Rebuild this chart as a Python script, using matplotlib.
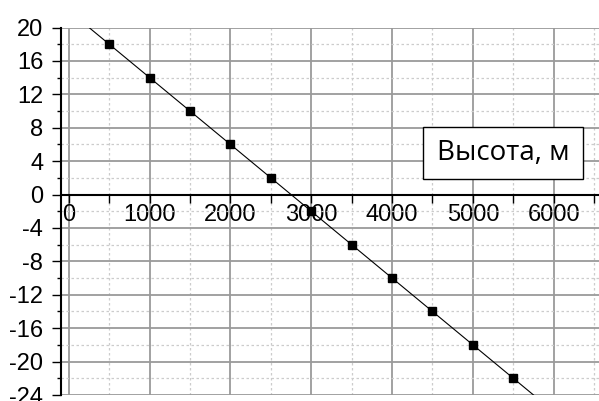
import numpy as np
import matplotlib.pyplot as plt
from matplotlib.ticker import MultipleLocator
from matplotlib.patches import Rectangle

plt.rcParams['axes.unicode_minus'] = False
plt.rcParams['font.family'] = ['Liberation Sans', 'DejaVu Sans']

# высота (м) и температура
height = np.array([500, 1000, 1500, 2000, 2500, 3000, 3500, 4000, 4500, 5000, 5500])
temp = np.array([18, 14, 10, 6, 2, -2, -6, -10, -14, -18, -22])

box_label = "Высота, м"

fig = plt.figure(figsize=(5.99, 4.01), dpi=100)
W, H = 599, 401
ax = fig.add_axes([60.7 / W, 1 - 395 / H, (W - 60.7) / W, (395 - 27.5) / H])

ax.set_xlim(-100, 6560)
ax.set_ylim(-24, 20)

# сетка
ax.xaxis.set_major_locator(MultipleLocator(1000))
ax.xaxis.set_minor_locator(MultipleLocator(500))
ax.yaxis.set_major_locator(MultipleLocator(4))
ax.yaxis.set_minor_locator(MultipleLocator(2))
ax.grid(which='major', color='#9a9a9a', linewidth=1.3, linestyle='-')
ax.grid(which='minor', color='#cccccc', linewidth=0.9, linestyle=(0, (2, 2)))
ax.set_axisbelow(True)

# оси
for s in ['top', 'right']:
    ax.spines[s].set_visible(False)
ax.spines['bottom'].set_position(('data', 0))
ax.spines['bottom'].set_linewidth(1.5)
ax.spines['left'].set_linewidth(1.5)

ax.tick_params(axis='y', which='major', direction='out', length=6.5, width=1, labelsize=17, pad=6)
ax.tick_params(axis='y', which='minor', direction='out', length=3, width=1)
ax.tick_params(axis='x', which='both', direction='out', length=5.5, width=1, labelsize=17, pad=1)

# линия и точки
ax.axline((height[0], temp[0]), (height[-1], temp[-1]), color='black', linewidth=0.8, zorder=2)
ax.plot(height, temp, linestyle='none', marker='s', markersize=6.3, color='black', zorder=3)

# подпись в рамке
fig.add_artist(Rectangle((423 / W, 1 - 179 / H), 160 / W, 52 / H, transform=fig.transFigure,
                         facecolor='white', edgecolor='black', linewidth=1, zorder=5))
fig.text(503 / W, 1 - 153 / H, box_label, ha='center', va='center', fontsize=20,
         family=['Open Sans', 'DejaVu Sans'], zorder=6)

fig.savefig('out.png', dpi=100)
